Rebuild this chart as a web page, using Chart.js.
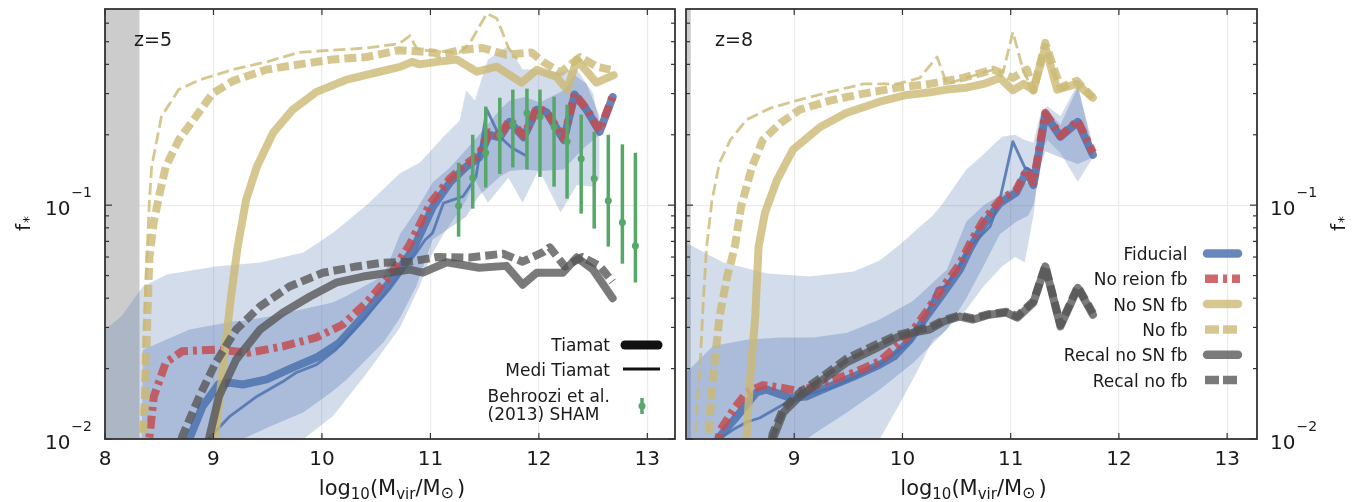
<!DOCTYPE html>
<html><head><meta charset="utf-8">
<script src="https://cdn.jsdelivr.net/npm/chart.js@4.4.1/dist/chart.umd.min.js"></script>
<style>
html,body{margin:0;padding:0;background:#fff;}
#wrap{position:relative;width:1359px;height:502px;overflow:hidden;background:#fff;}
#c1{position:absolute;left:0;top:0;}
#c2{position:absolute;left:680px;top:0;}
</style></head><body>
<div id="wrap"><canvas id="c1" width="680" height="502"></canvas><canvas id="c2" width="679" height="502"></canvas></div>
<script>
// ---------- tick labels / texts ----------
const xTicksZ5 = [8, 9, 10, 11, 12, 13];
const xTicksZ8 = [9, 10, 11, 12, 13];
const yTicks = [0.01, 0.1];
const yTickLabels = [['10', '\u22122'], ['10', '\u22121']];
const yMinorTicks = [0.02,0.03,0.04,0.05,0.06,0.07,0.08,0.09,0.2,0.3,0.4,0.5,0.6];
const panelLabels = ['z=5', 'z=8'];
const legendZ5 = ['Tiamat', 'Medi Tiamat', 'Behroozi et al.', '(2013) SHAM'];
const legendZ8 = ['Fiducial', 'No reion fb', 'No SN fb', 'No fb', 'Recal no SN fb', 'Recal no fb'];
const Y_MIN = 0.01, Y_MAX = 0.69;
const resolutionLimit = [8.32, 8.045];   // grey shaded mass limit, z=5 and z=8

// ---------- z = 5 series: [log10 Mvir, f*] ----------
const z5Fiducial = [[8.70,0.0085],[8.78,0.0101],[8.90,0.0138],[9.05,0.0172],[9.15,0.0174],[9.27,0.0171],[9.49,0.0180],[9.73,0.0202],[9.95,0.0223],[10.16,0.0258],[10.38,0.0334],[10.62,0.0466],[10.84,0.0645],[11.02,0.098],[11.18,0.125],[11.33,0.146],[11.45,0.16],[11.54,0.20],[11.64,0.195],[11.73,0.227],[11.86,0.195],[11.98,0.256],[12.07,0.25],[12.23,0.19],[12.33,0.297],[12.44,0.256],[12.56,0.206],[12.68,0.29]];
const z5FiducialMedi = [[8.90,0.0085],[8.96,0.0101],[9.15,0.0125],[9.40,0.0152],[9.64,0.0176],[9.76,0.0192],[9.95,0.0208],[10.13,0.0241],[10.38,0.0324],[10.62,0.0435],[10.87,0.0626],[10.95,0.071],[11.02,0.076],[11.12,0.102],[11.30,0.109],[11.42,0.132],[11.52,0.256],[11.64,0.196],[11.75,0.176],[11.87,0.164]];
const z5NoReion = [[8.39,0.0085],[8.41,0.0102],[8.45,0.0152],[8.56,0.0212],[8.71,0.0237],[9.02,0.0241],[9.33,0.0234],[9.64,0.0249],[9.95,0.0272],[10.19,0.0308],[10.41,0.0383],[10.62,0.0495],[10.81,0.068],[11.00,0.102],[11.18,0.13],[11.33,0.15],[11.45,0.165],[11.54,0.205],[11.64,0.198],[11.73,0.232],[11.86,0.198],[11.98,0.26],[12.07,0.252],[12.23,0.192],[12.33,0.30],[12.44,0.258],[12.56,0.208],[12.68,0.292]];
const z5NoSN = [[8.99,0.009],[9.02,0.0105],[9.10,0.023],[9.16,0.04],[9.22,0.065],[9.30,0.105],[9.40,0.146],[9.55,0.204],[9.73,0.256],[9.95,0.305],[10.22,0.343],[10.53,0.372],[10.72,0.39],[10.83,0.41],[10.90,0.40],[11.06,0.41],[11.24,0.42],[11.43,0.372],[11.61,0.391],[11.84,0.334],[11.98,0.379],[12.16,0.354],[12.26,0.312],[12.35,0.419],[12.53,0.334],[12.69,0.36]];
const z5NoFb = [[8.34,0.009],[8.35,0.0107],[8.37,0.0147],[8.39,0.0334],[8.41,0.06],[8.45,0.085],[8.50,0.11],[8.56,0.146],[8.68,0.19],[8.84,0.24],[8.99,0.30],[9.18,0.34],[9.49,0.38],[9.79,0.40],[10.10,0.42],[10.41,0.43],[10.71,0.46],[11.02,0.45],[11.09,0.44],[11.27,0.46],[11.48,0.47],[11.70,0.44],[11.93,0.45],[12.04,0.41],[12.20,0.37],[12.38,0.43],[12.54,0.39],[12.66,0.38]];
const z5NoFbMedi = [[8.33,0.009],[8.34,0.012],[8.36,0.03],[8.39,0.066],[8.41,0.105],[8.43,0.146],[8.52,0.239],[8.68,0.312],[8.87,0.343],[9.18,0.38],[9.49,0.41],[9.79,0.45],[10.10,0.46],[10.41,0.47],[10.71,0.49],[10.81,0.53],[10.87,0.47],[10.93,0.46],[11.27,0.45],[11.36,0.49],[11.52,0.66],[11.61,0.63],[11.67,0.54],[11.72,0.47],[11.80,0.42]];
const z5RecalNoSN = [[8.94,0.0085],[8.96,0.0101],[9.05,0.0152],[9.21,0.0219],[9.43,0.0294],[9.64,0.0347],[9.89,0.0407],[10.13,0.0466],[10.38,0.0495],[10.62,0.0514],[10.81,0.053],[10.93,0.0515],[11.15,0.057],[11.45,0.054],[11.70,0.055],[11.85,0.0457],[11.98,0.0514],[12.22,0.0514],[12.35,0.0597],[12.50,0.053],[12.68,0.040]];
const z5RecalNoFb = [[8.68,0.0085],[8.71,0.0102],[8.87,0.0152],[9.02,0.0212],[9.21,0.0294],[9.43,0.0369],[9.70,0.0449],[10.01,0.0514],[10.32,0.0547],[10.56,0.0567],[10.81,0.0573],[11.06,0.060],[11.36,0.0597],[11.67,0.062],[11.85,0.0573],[12.04,0.063],[12.10,0.066],[12.24,0.0547],[12.40,0.060],[12.56,0.055],[12.68,0.047]];
// shaded percentile bands (z=5)
const z5OuterX  = [7.9,8.0,8.15,8.35,8.57,9.02,9.43,9.83,10.1,10.41,10.72,10.9,11.0,11.12,11.27,11.33,11.41,11.53,11.72,11.85,12.0,12.2,12.35,12.5,12.56];
const z5OuterHi = [0.029,0.0294,0.0334,0.0449,0.0505,0.0546,0.0568,0.0627,0.076,0.1,0.137,0.152,0.17,0.196,0.23,0.31,0.28,0.42,0.48,0.38,0.38,0.37,0.38,0.3,0.22];
const z5OuterLo = [0.005,0.005,0.005,0.005,0.005,0.005,0.005,0.01,0.0125,0.019,0.03,0.045,0.06,0.075,0.095,0.105,0.128,0.1025,0.131,0.1025,0.142,0.093,0.122,0.12,0.13];
const z5InnerX  = [8.33,8.35,8.5,8.78,9.18,9.27,9.52,9.83,10.1,10.23,10.57,10.72,10.87,11.02,11.18,11.33,11.45,11.64,11.73,11.87,12.01,12.23,12.33,12.44,12.56];
const z5InnerHi = [0.005,0.0241,0.0258,0.0294,0.0318,0.032,0.0334,0.036,0.0383,0.041,0.05,0.075,0.095,0.125,0.145,0.173,0.2,0.256,0.28,0.29,0.275,0.31,0.36,0.33,0.24];
const z5InnerLo = [0.005,0.005,0.005,0.005,0.005,0.01,0.0113,0.013,0.016,0.018,0.026,0.033,0.045,0.0712,0.08,0.0893,0.11,0.1324,0.14,0.142,0.14,0.142,0.16,0.18,0.2];
// Behroozi et al. (2013) SHAM
const shamX  = [11.26,11.39,11.51,11.64,11.76,11.89,12.01,12.14,12.26,12.39,12.51,12.64,12.77,12.89];
const shamY  = [0.0995,0.131,0.1675,0.2,0.221,0.248,0.239,0.216,0.187,0.158,0.13,0.1045,0.0842,0.0671];
const shamLo = [0.0733,0.0966,0.119,0.136,0.145,0.142,0.132,0.12,0.1066,0.092,0.0794,0.0665,0.0562,0.0467];
const shamHi = [0.152,0.2,0.264,0.288,0.312,0.315,0.312,0.291,0.269,0.244,0.206,0.2,0.182,0.1675];

// ---------- z = 8 series ----------
const z8Fiducial = [[8.26,0.0085],[8.30,0.0101],[8.47,0.0125],[8.65,0.0158],[8.74,0.0163],[8.96,0.015],[9.11,0.0152],[9.33,0.0168],[9.55,0.0185],[9.79,0.0208],[9.92,0.0225],[10.07,0.0266],[10.22,0.0334],[10.38,0.0423],[10.53,0.053],[10.62,0.0646],[10.74,0.081],[10.90,0.102],[11.05,0.113],[11.15,0.14],[11.21,0.122],[11.32,0.244],[11.46,0.196],[11.62,0.227],[11.76,0.164]];
const z8FiducialMedi = [[8.28,0.0085],[8.32,0.0101],[8.44,0.011],[8.56,0.0118],[8.68,0.0123],[8.87,0.0138],[9.05,0.0152],[9.33,0.0165],[9.55,0.0183],[9.79,0.0207],[10.07,0.026],[10.20,0.032],[10.32,0.044],[10.40,0.045],[10.53,0.055],[10.62,0.066],[10.81,0.081],[10.90,0.1056],[11.02,0.187],[11.13,0.145],[11.20,0.14]];
const z8NoReion = [[8.28,0.0085],[8.31,0.0108],[8.44,0.0134],[8.56,0.0158],[8.71,0.017],[8.87,0.0166],[9.05,0.016],[9.27,0.0174],[9.55,0.0192],[9.79,0.0215],[10.07,0.028],[10.22,0.035],[10.38,0.045],[10.53,0.056],[10.62,0.068],[10.74,0.085],[10.90,0.105],[11.05,0.116],[11.15,0.142],[11.21,0.125],[11.32,0.248],[11.46,0.198],[11.62,0.23],[11.76,0.168]];
const z8NoSN = [[8.55,0.009],[8.56,0.0102],[8.59,0.0174],[8.64,0.0334],[8.67,0.066],[8.73,0.093],[8.84,0.128],[8.99,0.173],[9.24,0.216],[9.48,0.248],[9.79,0.277],[10.04,0.296],[10.28,0.305],[10.41,0.312],[10.59,0.318],[10.75,0.33],[10.90,0.35],[11.02,0.31],[11.12,0.33],[11.21,0.31],[11.32,0.475],[11.43,0.312],[11.61,0.33],[11.76,0.288]];
const z8NoFb = [[8.20,0.009],[8.21,0.011],[8.25,0.0185],[8.31,0.0334],[8.38,0.0495],[8.45,0.066],[8.51,0.099],[8.61,0.146],[8.71,0.19],[8.87,0.224],[9.05,0.256],[9.33,0.28],[9.64,0.30],[9.95,0.318],[10.25,0.33],[10.56,0.35],[10.84,0.38],[11.02,0.35],[11.15,0.38],[11.21,0.31],[11.32,0.494],[11.46,0.318],[11.61,0.34],[11.76,0.288]];
const z8NoFbMedi = [[8.09,0.009],[8.10,0.0134],[8.13,0.0205],[8.16,0.039],[8.19,0.066],[8.24,0.105],[8.31,0.152],[8.41,0.19],[8.56,0.232],[8.78,0.26],[9.02,0.28],[9.33,0.305],[9.64,0.33],[9.95,0.33],[10.16,0.35],[10.32,0.43],[10.41,0.33],[10.59,0.35],[10.84,0.38],[10.93,0.37],[11.02,0.55],[11.12,0.37],[11.18,0.33]];
const z8RecalNoSN = [[8.79,0.0085],[8.81,0.0102],[8.90,0.013],[9.05,0.0152],[9.27,0.018],[9.48,0.0212],[9.73,0.0241],[9.95,0.0272],[10.10,0.0285],[10.25,0.0294],[10.38,0.0318],[10.53,0.0334],[10.65,0.0324],[10.80,0.034],[10.96,0.0347],[11.06,0.033],[11.21,0.0383],[11.32,0.0547],[11.46,0.0303],[11.62,0.0443],[11.76,0.034]];
const z8RecalNoFb = [[8.77,0.0085],[8.80,0.0105],[8.90,0.0135],[9.05,0.0158],[9.27,0.0186],[9.48,0.022],[9.73,0.025],[9.95,0.0278],[10.10,0.029],[10.25,0.030],[10.38,0.0322],[10.53,0.0338],[10.65,0.0328],[10.80,0.0342],[10.96,0.035],[11.06,0.0335],[11.21,0.0388],[11.32,0.055],[11.46,0.0308],[11.62,0.0448],[11.76,0.0345]];
const z8OuterX  = [7.95,8.0,8.34,8.75,9.14,9.55,9.79,9.98,10.15,10.28,10.36,10.59,10.75,10.92,11.04,11.13,11.21,11.28,11.34,11.46,11.62,11.76];
const z8OuterHi = [0.07,0.069,0.057,0.051,0.0495,0.052,0.058,0.068,0.08,0.09,0.1,0.142,0.165,0.196,0.2,0.19,0.185,0.25,0.265,0.24,0.33,0.17];
const z8OuterLo = [0.005,0.005,0.005,0.005,0.005,0.005,0.01,0.0143,0.02,0.0266,0.028,0.0358,0.045,0.0547,0.06,0.057,0.09,0.17,0.19,0.167,0.126,0.16];
const z8InnerX  = [7.95,8.0,8.25,8.56,8.87,9.12,9.18,9.49,9.79,10.10,10.41,10.59,10.75,10.90,11.05,11.16,11.21,11.28,11.32,11.46,11.62,11.76];
const z8InnerHi = [0.019,0.0192,0.025,0.0266,0.0272,0.0272,0.0272,0.0285,0.0324,0.039,0.053,0.085,0.1,0.11,0.12,0.125,0.125,0.24,0.26,0.22,0.32,0.18];
const z8InnerLo = [0.005,0.005,0.005,0.005,0.005,0.01,0.0105,0.013,0.0163,0.0212,0.0294,0.04,0.055,0.075,0.085,0.09,0.1,0.15,0.17,0.16,0.15,0.16];

// ---------- styles ----------
const FONT = '"DejaVu Sans", sans-serif';
Chart.defaults.font.family = FONT;
const C = {
  blue: 'rgba(76,114,176,0.85)', red: 'rgba(196,78,82,0.85)', yellow: 'rgba(204,185,116,0.8)',
  gray: 'rgba(85,85,85,0.78)', green: '#55a868', outer: 'rgba(76,114,176,0.25)', inner: 'rgba(76,114,176,0.3)',
  shade: '#cccccc', text: '#1a1a1a', axis: '#333333', grid: '#ebebeb'
};
const DASH = [12, 5], DASH_THIN = [12, 5], DASHDOT = [13, 5, 4, 5];

function lineDs(arr, color, width, dash, order) {
  return { type: 'line', data: arr.map(p => ({ x: p[0], y: p[1] })), borderColor: color, borderWidth: width,
    borderDash: dash || [], borderCapStyle: dash ? 'butt' : 'round', borderJoinStyle: 'round',
    pointRadius: 0, pointHoverRadius: 0, fill: false, tension: 0, clip: 0, order };
}
function bandDs(xs, lo, hi, color, order) {
  return [
    { type: 'line', data: xs.map((x, i) => ({ x, y: hi[i] })), borderWidth: 0, borderColor: 'rgba(0,0,0,0)',
      backgroundColor: color, fill: '+1', pointRadius: 0, tension: 0, clip: 0, order },
    { type: 'line', data: xs.map((x, i) => ({ x, y: lo[i] })), borderWidth: 0, borderColor: 'rgba(0,0,0,0)',
      fill: false, pointRadius: 0, tension: 0, clip: 0, order: order - 1 }
  ];
}
function shadeDs(x1) {
  return { type: 'line', data: [{ x: 7.5, y: Y_MAX }, { x: x1, y: Y_MAX }], borderWidth: 0, borderColor: 'rgba(0,0,0,0)',
    backgroundColor: C.shade, fill: 'start', pointRadius: 0, tension: 0, clip: 0, order: 100 };
}
function shamDs() {
  const ds = shamX.map((x, i) => ({ type: 'line', data: [{ x, y: shamLo[i] }, { x, y: shamHi[i] }], borderColor: C.green,
    borderWidth: 3.5, borderCapStyle: 'butt', pointRadius: 0, fill: false, clip: 0, order: 0 }));
  ds.push({ type: 'line', data: shamX.map((x, i) => ({ x, y: shamY[i] })), showLine: false, pointRadius: 3.5,
    pointBackgroundColor: C.green, pointBorderWidth: 0, borderColor: C.green, clip: 0, order: 0 });
  return ds;
}

// ---------- text helpers ----------
function txt(ctx, s, x, y, size, align) {
  ctx.font = size + 'px ' + FONT; ctx.textAlign = align || 'left'; ctx.textBaseline = 'alphabetic'; ctx.fillText(s, x, y);
}
function drawXTitle(ctx, cx, base) {
  const parts = [['log', 21, 0], ['10', 15, 4], ['(M', 21, 0], ['vir', 15, 4], ['/M', 21, 0], ['\u2299', 16, 3], [')', 21, 0]];
  let total = 0;
  parts.forEach(p => { ctx.font = p[1] + 'px ' + FONT; total += ctx.measureText(p[0]).width + (p[0] === ')' ? 3 : 0); });
  let x = cx - total / 2;
  parts.forEach(p => { if (p[0] === ')') x += 3; txt(ctx, p[0], x, base + p[2], p[1]); ctx.font = p[1] + 'px ' + FONT; x += ctx.measureText(p[0]).width; });
}
function drawYTitle(ctx, xBase, cy) {
  ctx.save(); ctx.translate(xBase, cy); ctx.rotate(-Math.PI / 2);
  ctx.font = '20px ' + FONT; const w1 = ctx.measureText('f').width;
  ctx.font = '14px ' + FONT; const w2 = ctx.measureText('*').width;
  const x0 = -(w1 + w2) / 2;
  txt(ctx, 'f', x0, 0, 20); txt(ctx, '*', x0 + w1 + 1, 3, 14);
  ctx.restore();
}
function seg(ctx, x0, y0, x1, y1) { ctx.beginPath(); ctx.moveTo(x0, y0); ctx.lineTo(x1, y1); ctx.stroke(); }

const panelCfg = {
  c1: { xticks: xTicksZ5, ypos: 'left', extra(ctx, a) {
      ctx.fillStyle = C.text;
      txt(ctx, panelLabels[0], 134, 46, 19);
      drawXTitle(ctx, (a.left + a.right) / 2 + 2, 495);
      drawYTitle(ctx, 30, (a.top + a.bottom) / 2);
      // legend
      txt(ctx, legendZ5[0], 610, 351, 17, 'right');
      txt(ctx, legendZ5[1], 610, 376, 17, 'right');
      ctx.font = '17px ' + FONT; const wb = ctx.measureText(legendZ5[2]).width;
      txt(ctx, legendZ5[2], 610 - wb, 401.5, 17); txt(ctx, legendZ5[3], 610 - wb, 420, 17);
      ctx.strokeStyle = '#111'; ctx.setLineDash([]); ctx.lineCap = 'round';
      ctx.lineWidth = 9; seg(ctx, 625, 345, 658, 345);
      ctx.lineWidth = 3; ctx.lineCap = 'butt'; seg(ctx, 623, 369, 660, 369);
      ctx.strokeStyle = C.green; ctx.lineWidth = 3.5; seg(ctx, 642, 398, 642, 414);
      ctx.fillStyle = C.green; ctx.beginPath(); ctx.arc(642, 406, 3.5, 0, 2 * Math.PI); ctx.fill();
    } },
  c2: { xticks: xTicksZ8, ypos: 'right', extra(ctx, a) {
      const o = 680;
      ctx.fillStyle = C.text;
      txt(ctx, panelLabels[1], 715 - o, 46, 19);
      drawXTitle(ctx, (a.left + a.right) / 2 + 2, 495);
      drawYTitle(ctx, 1345 - o, (a.top + a.bottom) / 2);
      const base = [260, 285.3, 310.6, 335.9, 361.2, 386.5];
      const styles = [[C.blue, null], [C.red, DASHDOT], [C.yellow, null], [C.yellow, [14, 4]], [C.gray, null], [C.gray, [14, 4]]];
      legendZ8.forEach((s, i) => {
        ctx.fillStyle = C.text; txt(ctx, s, 1187.5 - o, base[i], 17, 'right');
        const y = base[i] - 6.5; const [col, dash] = styles[i];
        ctx.strokeStyle = col; ctx.lineWidth = 8.5;
        if (dash) { ctx.setLineDash(dash); ctx.lineCap = 'butt'; seg(ctx, 1205 - o, y, 1240 - o, y); }
        else { ctx.setLineDash([]); ctx.lineCap = 'round'; seg(ctx, 1207 - o, y, 1238 - o, y); }
      });
      ctx.setLineDash([]);
    } }
};

const framePlugin = {
  id: 'frame',
  afterDraw(chart) {
    const cfg = panelCfg[chart.canvas.id];
    const ctx = chart.ctx, a = chart.chartArea, xs = chart.scales.x, ys = chart.scales.y;
    ctx.save();
    ctx.strokeStyle = C.axis; ctx.lineWidth = 1.2; ctx.setLineDash([]);
    cfg.xticks.forEach(v => { const p = xs.getPixelForValue(v); seg(ctx, p, a.top, p, a.top + 6); seg(ctx, p, a.bottom, p, a.bottom - 6); });
    yMinorTicks.forEach(v => { const p = ys.getPixelForValue(v); seg(ctx, a.left, p, a.left + 4, p); seg(ctx, a.right, p, a.right - 4, p); });
    yTicks.forEach(v => { const p = ys.getPixelForValue(v); seg(ctx, a.left, p, a.left + 7, p); seg(ctx, a.right, p, a.right - 7, p); });
    ctx.lineWidth = 1.8; ctx.strokeRect(a.left, a.top, a.right - a.left, a.bottom - a.top);
    ctx.fillStyle = C.text;
    yTicks.forEach((v, i) => {
      const p = ys.getPixelForValue(v);
      const [b, s] = yTickLabels[i];
      ctx.font = '20px ' + FONT; const wb = ctx.measureText(b).width;
      ctx.font = '14px ' + FONT; const ws = ctx.measureText(s).width;
      const x0 = cfg.ypos === 'left' ? a.left - 13 - wb - ws - 1 : a.right + 13;
      txt(ctx, b, x0, p + 9.5, 20); txt(ctx, s, x0 + wb + 1, p - 8, 14);
    });
    cfg.extra(ctx, a);
    ctx.restore();
  }
};

function makeChart(id, datasets, xmin, xmax, xticks, ypos, padding, yw) {
  return new Chart(document.getElementById(id), {
    type: 'line',
    data: { datasets },
    options: {
      responsive: false, animation: false, devicePixelRatio: 1, events: [],
      layout: { padding },
      plugins: { legend: { display: false }, tooltip: { enabled: false } },
      scales: {
        x: { type: 'linear', min: xmin, max: xmax,
          afterBuildTicks: s => { s.ticks = xticks.map(v => ({ value: v })); },
          afterFit: s => { s.height = 63; },
          grid: { color: C.grid, lineWidth: 1.2, drawTicks: false }, border: { display: false },
          ticks: { padding: 9, color: C.text, font: { size: 20 }, maxRotation: 0, autoSkip: false, callback: v => String(v) } },
        y: { type: 'logarithmic', position: ypos, min: Y_MIN, max: Y_MAX,
          afterBuildTicks: s => { s.ticks = yTicks.map(v => ({ value: v })); },
          afterFit: s => { s.width = yw; },
          grid: { color: C.grid, lineWidth: 1.2, drawTicks: false }, border: { display: false },
          ticks: { display: false } }
      }
    },
    plugins: [framePlugin]
  });
}

const ds5 = [].concat(
  [shadeDs(resolutionLimit[0])],
  bandDs(z5OuterX, z5OuterLo, z5OuterHi, C.outer, 91),
  bandDs(z5InnerX, z5InnerLo, z5InnerHi, C.inner, 81),
  [lineDs(z5Fiducial, C.blue, 8, null, 9), lineDs(z5FiducialMedi, C.blue, 2.8, null, 8),
   lineDs(z5NoReion, C.red, 8, DASHDOT, 7),
   lineDs(z5NoSN, C.yellow, 8, null, 6), lineDs(z5NoFb, C.yellow, 8, DASH, 5), lineDs(z5NoFbMedi, C.yellow, 2.8, DASH_THIN, 4),
   lineDs(z5RecalNoSN, C.gray, 8, null, 3), lineDs(z5RecalNoFb, C.gray, 8, DASH, 2)],
  shamDs()
);
const ds8 = [].concat(
  [shadeDs(resolutionLimit[1])],
  bandDs(z8OuterX, z8OuterLo, z8OuterHi, C.outer, 91),
  bandDs(z8InnerX, z8InnerLo, z8InnerHi, C.inner, 81),
  [lineDs(z8Fiducial, C.blue, 8, null, 9), lineDs(z8FiducialMedi, C.blue, 2.8, null, 8),
   lineDs(z8NoReion, C.red, 8, DASHDOT, 7),
   lineDs(z8NoSN, C.yellow, 8, null, 6), lineDs(z8NoFb, C.yellow, 8, DASH, 5), lineDs(z8NoFbMedi, C.yellow, 2.8, DASH_THIN, 4),
   lineDs(z8RecalNoSN, C.gray, 8, null, 3), lineDs(z8RecalNoFb, C.gray, 8, DASH, 2)]
);

makeChart('c1', ds5, 8, 13.255, xTicksZ5, 'left', { left: 0, right: 5, top: 9, bottom: 0 }, 105);
makeChart('c2', ds8, 8.0, 13.276, xTicksZ8, 'right', { left: 6, right: 0, top: 9, bottom: 0 }, 102);
</script></body></html>
